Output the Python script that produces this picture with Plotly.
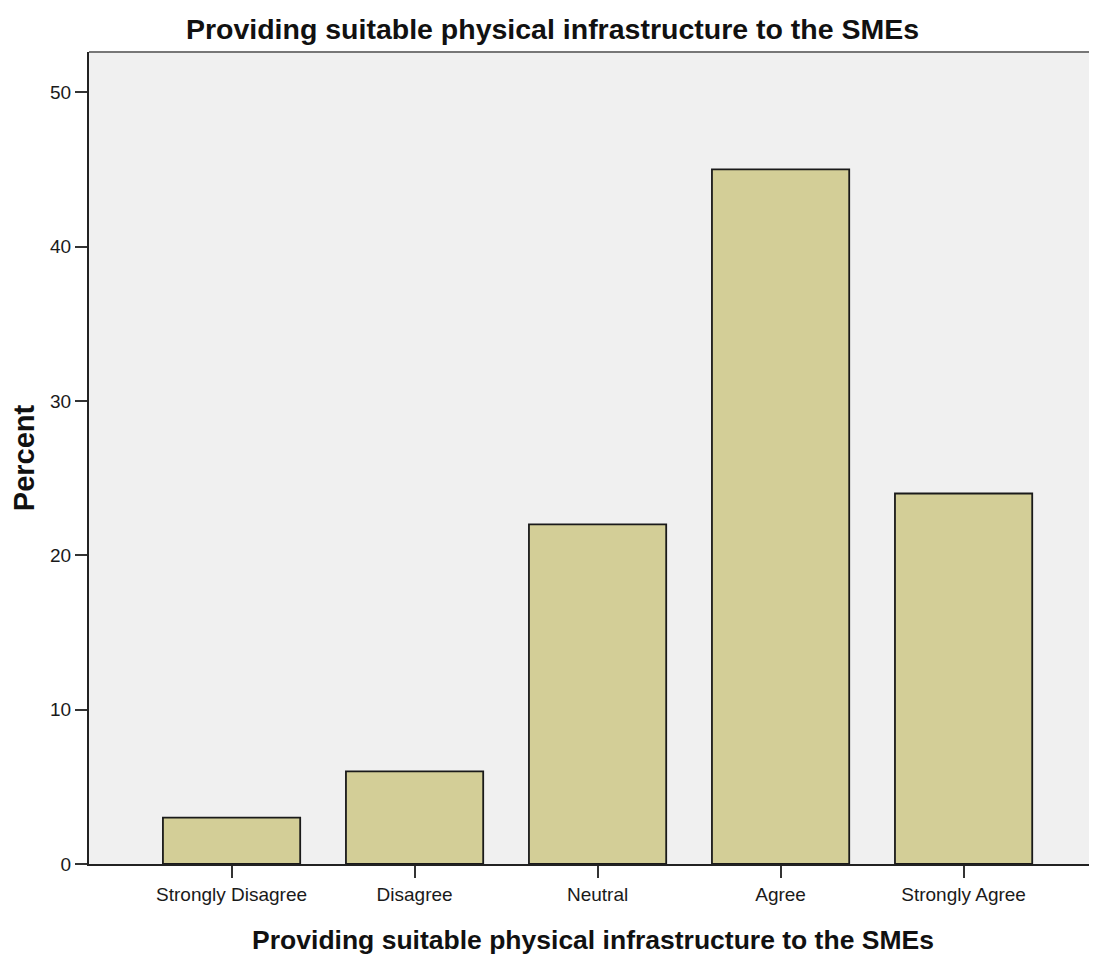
import plotly.graph_objects as go

categories = ["Strongly Disagree", "Disagree", "Neutral", "Agree", "Strongly Agree"]
percent = [3, 6, 22, 45, 24]
y_ticks = [0, 10, 20, 30, 40, 50]

title_text = "Providing suitable physical infrastructure to the SMEs"

fig = go.Figure(go.Bar(
    x=categories, y=percent, width=0.75,
    marker=dict(color="#D3CE97", line=dict(color="#1a1a1a", width=1.8)),
))

fig.update_layout(
    width=1089, height=947,
    margin=dict(l=81, r=0, t=44, b=91),
    paper_bgcolor="white", plot_bgcolor="#F0F0F0",
    font=dict(family="Liberation Sans, Arial", color="#000"),
    title=dict(text=title_text, x=0.5, xanchor="center", y=0.978, yanchor="middle",
               font=dict(size=28.5, weight="bold", color="#111")),
    showlegend=False,
)
fig.update_xaxes(
    range=[-0.779, 4.729], showline=True, linecolor="#222", linewidth=2,
    ticks="outside", ticklen=12, tickcolor="#333", tickwidth=2,
    tickfont=dict(size=19, color="#1a1a1a"), showgrid=False, zeroline=False,
    title=dict(text=title_text, font=dict(size=26.5, weight="bold", color="#111"), standoff=27),
)
fig.update_yaxes(
    range=[0, 52.6], tickvals=y_ticks, showline=True, linecolor="#222", linewidth=2,
    ticks="outside", ticklen=12, tickcolor="#333", tickwidth=2,
    tickfont=dict(size=19, color="#1a1a1a"), showgrid=False, zeroline=False,
    title=dict(text="Percent", font=dict(size=29, weight="bold", color="#111"), standoff=18),
)
fig.add_shape(type="line", xref="paper", yref="paper", x0=0, x1=1, y0=1, y1=1,
              line=dict(color="#777", width=2))

fig.write_html("out.html")
